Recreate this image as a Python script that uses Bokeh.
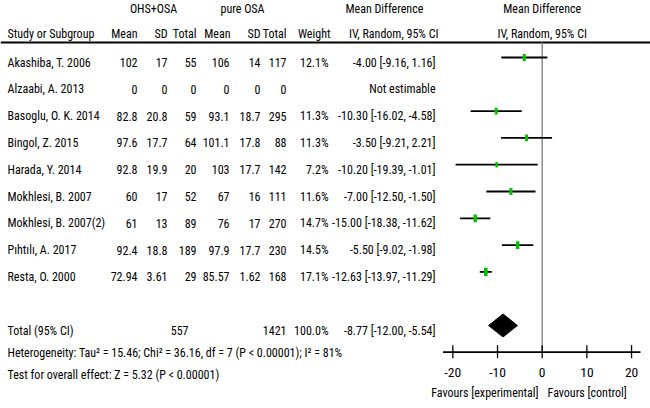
from bokeh.plotting import figure
from bokeh.models import Range1d
from bokeh.core.properties import value
from bokeh.embed import file_html
from bokeh.resources import INLINE

# ---------------- data ----------------
studies = ["Akashiba, T. 2006", "Alzaabi, A. 2013", "Basoglu, O. K. 2014", "Bingol, Z. 2015",
           "Harada, Y. 2014", "Mokhlesi, B. 2007", "Mokhlesi, B. 2007(2)", "Pıhtılı, A. 2017",
           "Resta, O. 2000"]
ohs_mean = [102, 0, 82.8, 97.6, 92.8, 60, 61, 92.4, 72.94]
ohs_sd = [17, 0, 20.8, 17.7, 19.9, 17, 13, 18.8, 3.61]
ohs_total = [55, 0, 59, 64, 20, 52, 89, 189, 29]
osa_mean = [106, 0, 93.1, 101.1, 103, 67, 76, 97.9, 85.57]
osa_sd = [14, 0, 18.7, 17.8, 17.7, 16, 17, 17.7, 1.62]
osa_total = [117, 0, 295, 88, 142, 111, 270, 230, 168]
weight = [12.1, None, 11.3, 11.3, 7.2, 11.6, 14.7, 14.5, 17.1]
md = [-4.00, None, -10.30, -3.50, -10.20, -7.00, -15.00, -5.50, -12.63]
md_lo = [-9.16, None, -16.02, -9.21, -19.39, -12.50, -18.38, -9.02, -13.97]
md_hi = [1.16, None, -4.58, 2.21, -1.01, -1.50, -11.62, -1.98, -11.29]

total_ohs = 557
total_osa = 1421
total_weight = 100.0
total_md, total_lo, total_hi = -8.77, -12.00, -5.54

heterogeneity = "Heterogeneity: Tau\u00b2 = 15.46; Chi\u00b2 = 36.16, df = 7 (P < 0.00001); I\u00b2 = 81%"
overall = "Test for overall effect: Z = 5.32 (P < 0.00001)"
ticks = [-20, -10, 0, 10, 20]
axis_span = (-22.2, 22.0)
fav_left = "Favours [experimental]"
fav_right = "Favours [control]"

# ---------------- layout ----------------
W, H = 650, 408
ZERO_PX = 541.7
PX_PER = 4.4675
FONT = "Roboto Condensed"
FS = "12px"
GREEN = "#00C400"

p = figure(width=W, height=H, x_range=Range1d(0, W), y_range=Range1d(H, 0),
           output_backend="svg", toolbar_location=None, min_border=0,
           x_axis_location=None, y_axis_location=None)
p.extra_x_ranges = {"md": Range1d((0 - ZERO_PX) / PX_PER, (W - ZERO_PX) / PX_PER)}
p.grid.visible = False
p.outline_line_color = None
p.background_fill_color = "white"
p.border_fill_color = "white"


def txt(xs, ys, texts, align="left", size=FS, rng="default", font=FONT):
    p.text(x=xs, y=ys, text=texts, text_align=align, text_baseline="middle",
           text_font=value(font), text_font_size=size, text_color="black",
           x_range_name=rng)


n = len(studies)
row_y = [62 + 26.8 * i for i in range(n)]
mark_y = [y - 5 for y in row_y]
total_y = 330
diamond_y = 325
het_y = 352
test_y = 374
axis_y = 351.7

# header
HY1, HY2 = 8, 33
txt([153, 242], [HY1, HY1], ["OHS+OSA", "pure OSA"], align="center")
txt([345], [HY1], ["Mean Difference"])
txt([0], [HY1], ["Mean Difference"], align="center", rng="md")
txt([7], [HY2], ["Study or Subgroup"])
txt([137, 167, 196, 230, 260, 286, 330, 438],
    [HY2] * 8, ["Mean", "SD", "Total", "Mean", "SD", "Total", "Weight", "IV, Random, 95% CI"],
    align="right")
txt([0], [HY2], ["IV, Random, 95% CI"], align="center", rng="md")
p.segment(x0=[0], y0=[42], x1=[W], y1=[42], line_color="black", line_width=1.8)

# table body
txt([7] * n, row_y, studies)
cols = [(ohs_mean, 137), (ohs_sd, 167), (ohs_total, 196), (osa_mean, 229),
        (osa_sd, 260), (osa_total, 286)]
for vals, xr in cols:
    txt([xr] * n, row_y, [str(v) for v in vals], align="right")
txt([328] * n, row_y, ["" if w is None else f"{w:.1f}%" for w in weight], align="right")
txt([435] * n, row_y,
    ["Not estimable" if m is None else f"{m:.2f} [{l:.2f}, {h:.2f}]"
     for m, l, h in zip(md, md_lo, md_hi)], align="right")

# total rows
txt([7], [total_y], ["Total (95% CI)"])
txt([188, 286, 328, 435], [total_y] * 4,
    [str(total_ohs), str(total_osa), f"{total_weight:.1f}%",
     f"{total_md:.2f} [{total_lo:.2f}, {total_hi:.2f}]"], align="right")
txt([7], [het_y], [heterogeneity])
txt([7], [test_y], [overall])

# forest plot
p.segment(x0=[0], y0=[42], x1=[0], y1=[axis_y], x_range_name="md",
          line_color="#8c8c8c", line_width=1.5)
idx = [i for i in range(n) if md[i] is not None]
p.segment(x0=[md_lo[i] for i in idx], y0=[mark_y[i] for i in idx],
          x1=[md_hi[i] for i in idx], y1=[mark_y[i] for i in idx],
          x_range_name="md", line_color="black", line_width=1.8)
p.rect(x=[md[i] for i in idx], y=[mark_y[i] for i in idx],
       width=[0.9 * weight[i] ** 0.5 for i in idx],
       height=[2.0 * weight[i] ** 0.5 for i in idx],
       width_units="screen", height_units="screen", x_range_name="md",
       fill_color=GREEN, line_color=None)
p.patch(x=[total_lo, total_md, total_hi, total_md],
        y=[diamond_y, diamond_y - 11.5, diamond_y, diamond_y + 11.5],
        x_range_name="md", fill_color="black", line_color="black")

# axis
p.segment(x0=[axis_span[0]], y0=[axis_y], x1=[axis_span[1]], y1=[axis_y],
          x_range_name="md", line_color="black", line_width=1.8)
p.segment(x0=ticks, y0=[axis_y - 7] * len(ticks), x1=ticks, y1=[axis_y + 6] * len(ticks),
          x_range_name="md", line_color="black", line_width=1.3)
txt(ticks, [372] * len(ticks), [str(t) for t in ticks], align="center", size="13.5px", rng="md")
txt([-0.8], [392], [fav_left], align="right", rng="md")
txt([1.2], [392], [fav_right], align="left", rng="md")

open("out.html", "w").write(file_html(p, INLINE))
